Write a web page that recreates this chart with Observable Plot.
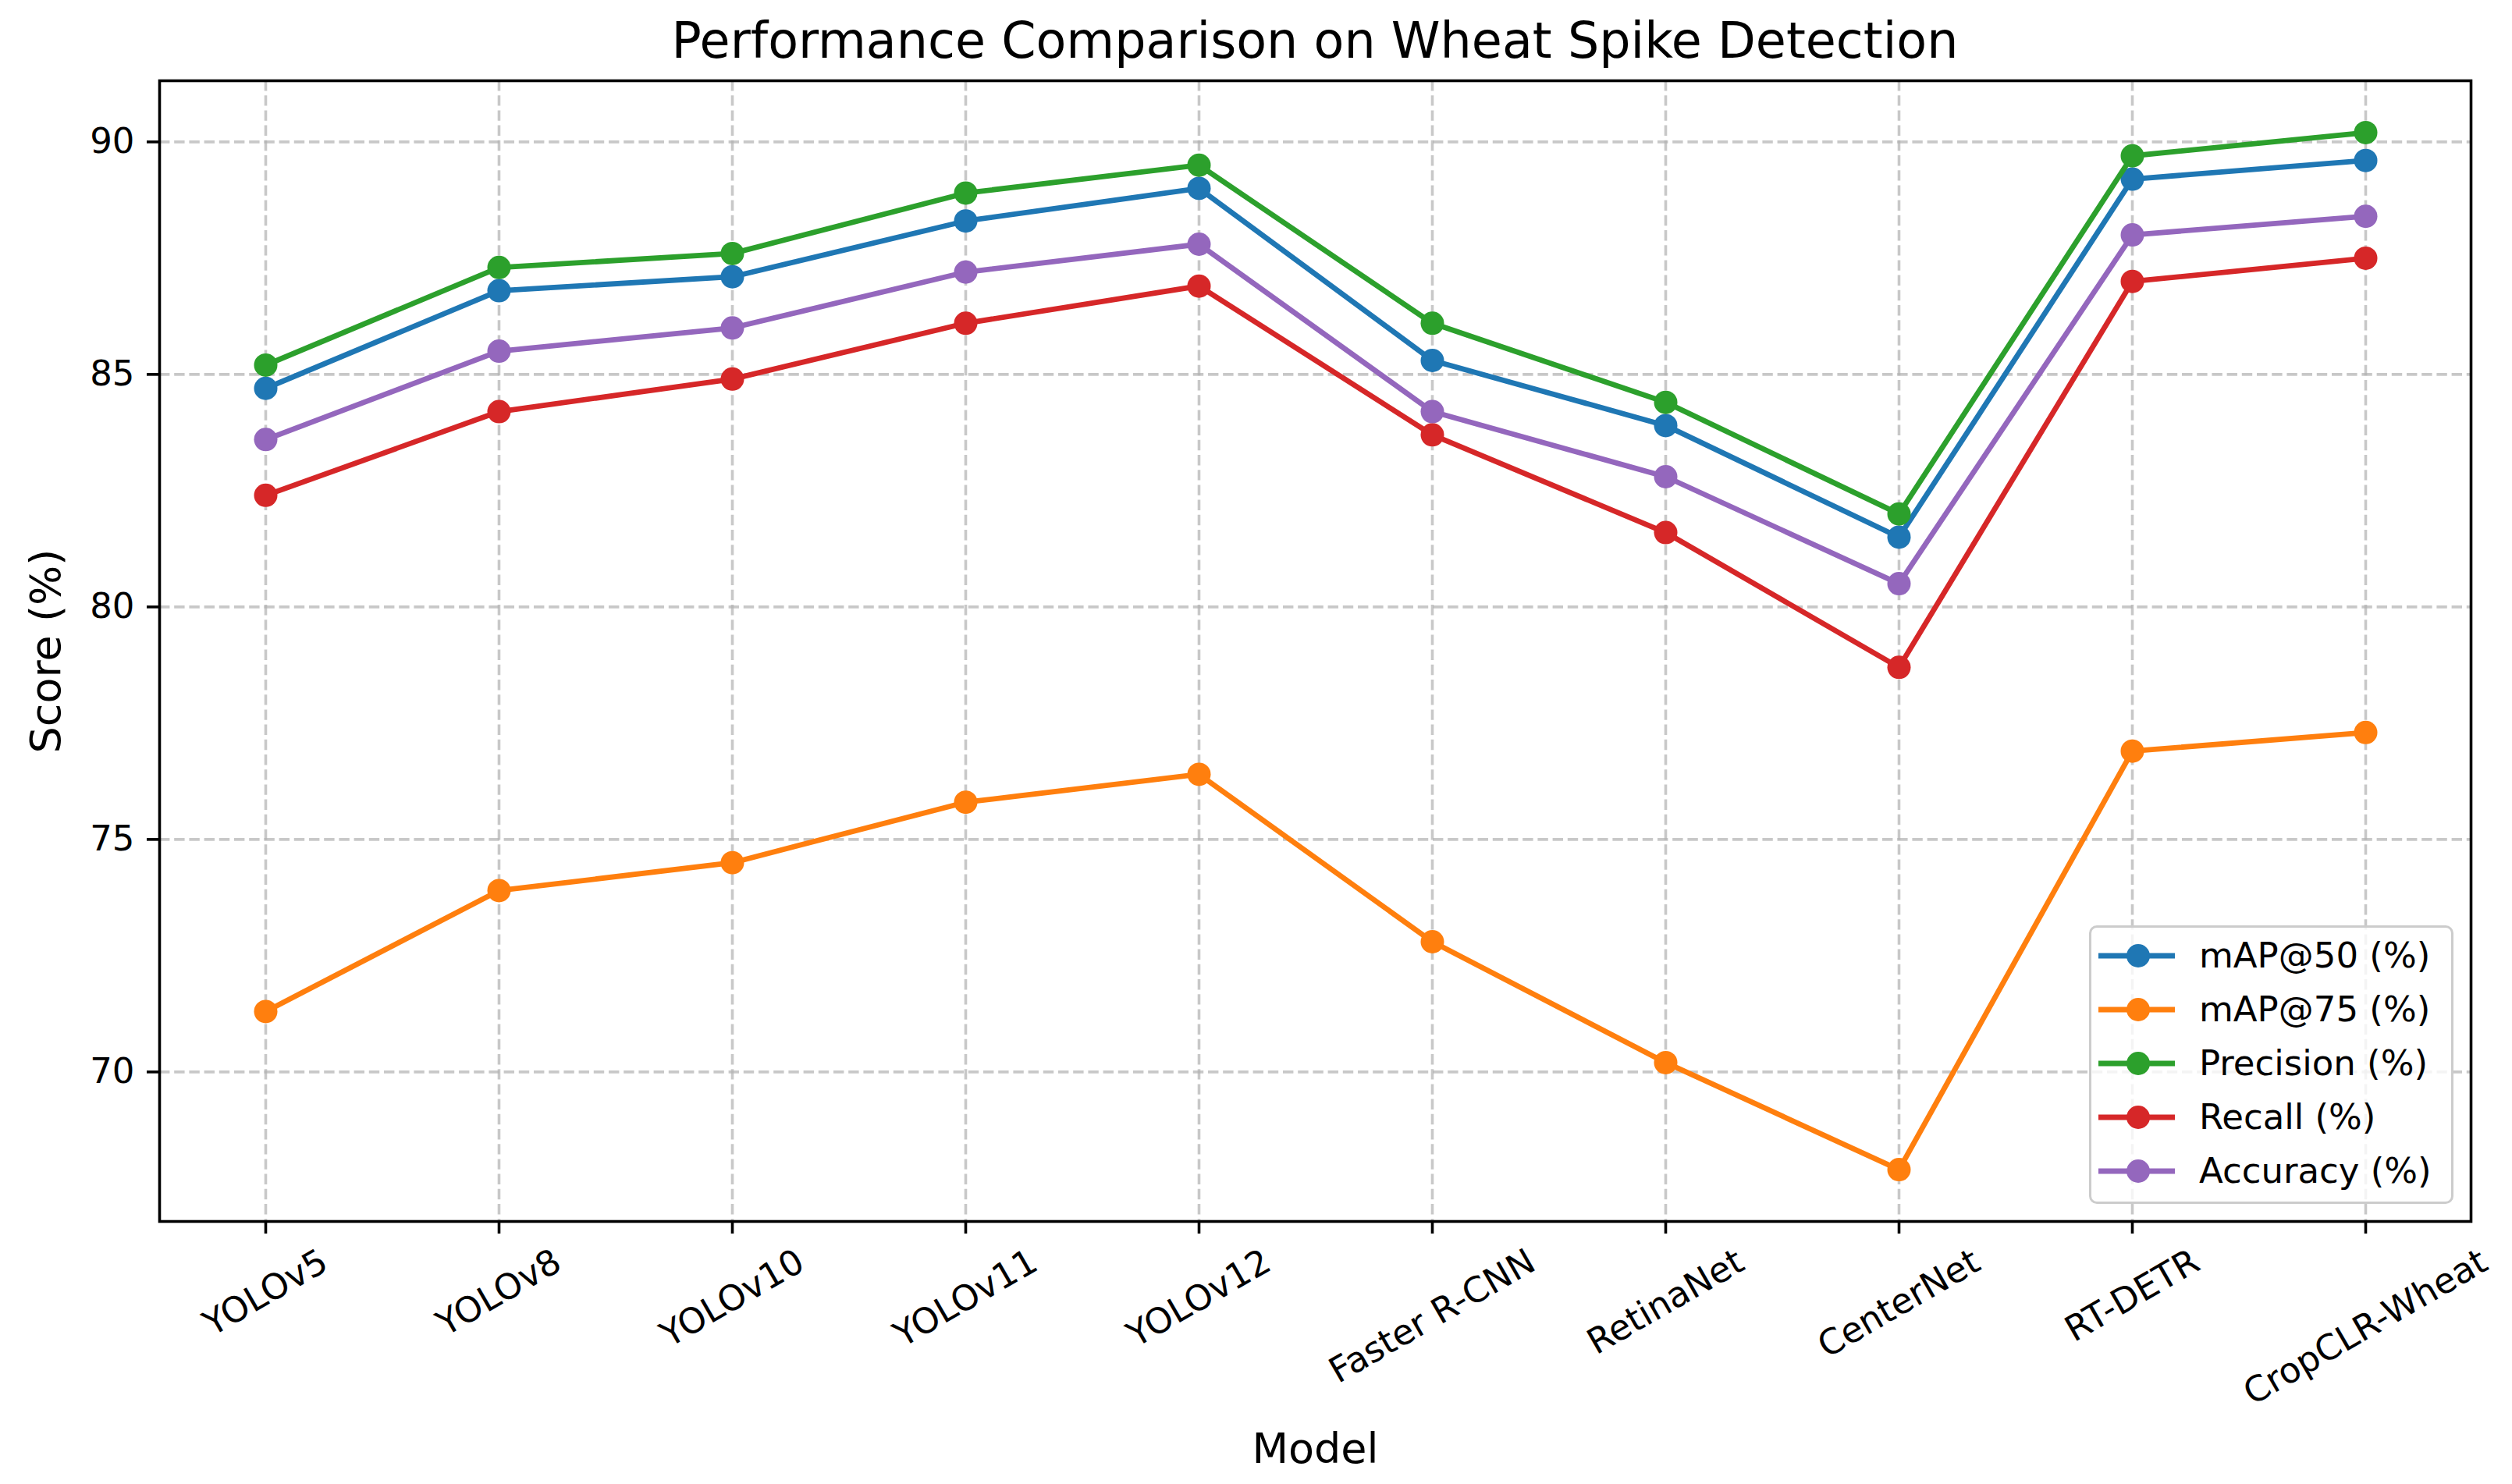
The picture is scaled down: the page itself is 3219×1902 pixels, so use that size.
<!DOCTYPE html>
<html>
<head>
<meta charset="utf-8">
<script src="https://cdn.jsdelivr.net/npm/d3@7"></script>
<script src="https://cdn.jsdelivr.net/npm/@observablehq/plot@0.6"></script>
<style>
  html, body { margin: 0; padding: 0; background: white; }
  #wrap { position: relative; width: 3219px; height: 1902px; font-family: "DejaVu Sans", sans-serif; }
  #title { position: absolute; left: 204px; width: 2962px; top: 0; height: 90px; line-height: 104px; text-align: center; font-size: 63.5px; color: black; white-space: nowrap; }
  #chart { position: absolute; left: 0; top: 90px; }
  #legend { position: absolute; left: 2677px; top: 1186px; width: 467px; height: 357px; box-sizing: border-box;
            border: 3.5px solid #cccccc; border-radius: 10px; background: rgba(255,255,255,0.8); }
  .row { position: absolute; left: 0; height: 60px; width: 100%; }
  .row svg { position: absolute; left: 9px; top: 0; }
  .row span { position: absolute; left: 138px; top: 0; line-height: 60px; font-size: 45px; color: black; white-space: nowrap; }
</style>
</head>
<body>
<div id="wrap">
  <div id="title">Performance Comparison on Wheat Spike Detection</div>
  <div id="chart"></div>
  <div id="legend"></div>
</div>
<script>
const models = ["YOLOv5", "YOLOv8", "YOLOv10", "YOLOv11", "YOLOv12", "Faster R-CNN", "RetinaNet", "CenterNet", "RT-DETR", "CropCLR-Wheat"];
const seriesNames = ["mAP@50 (%)", "mAP@75 (%)", "Precision (%)", "Recall (%)", "Accuracy (%)"];
const seriesColors = ["#1f77b4", "#ff7f0e", "#2ca02c", "#d62728", "#9467bd"];
const map50     = [84.7, 86.8, 87.1, 88.3, 89.0, 85.3, 83.9, 81.5, 89.2, 89.6];
const map75     = [71.3, 73.9, 74.5, 75.8, 76.4, 72.8, 70.2, 67.9, 76.9, 77.3];
const precision = [85.2, 87.3, 87.6, 88.9, 89.5, 86.1, 84.4, 82.0, 89.7, 90.2];
const recall    = [82.4, 84.2, 84.9, 86.1, 86.9, 83.7, 81.6, 78.7, 87.0, 87.5];
const accuracy  = [83.6, 85.5, 86.0, 87.2, 87.8, 84.2, 82.8, 80.5, 88.0, 88.4];
const yTicks = [70, 75, 80, 85, 90];

const seriesValues = [map50, map75, precision, recall, accuracy];
const series = seriesNames.map((name, i) => ({
  name, color: seriesColors[i],
  rows: models.map((m, j) => ({model: m, value: seriesValues[i][j]}))
}));

// y domain with matplotlib-like 5% margins
const allVals = seriesValues.flat();
const vmin = d3.min(allVals), vmax = d3.max(allVals);
const pad = (vmax - vmin) * 0.05;

// measure tick label widths for rotated placement
const ctx = document.createElement("canvas").getContext("2d");
ctx.font = "45px 'DejaVu Sans'";
const textW = s => ctx.measureText(s).width;

const lw = 6.8, mr = 15;
const marks = [
  Plot.gridY(yTicks, {stroke: "#b0b0b0", strokeOpacity: 0.7, strokeWidth: 3.6, strokeDasharray: "13.4,5.8"}),
  Plot.gridX(models, {stroke: "#b0b0b0", strokeOpacity: 0.7, strokeWidth: 3.6, strokeDasharray: "13.4,5.8"}),
];
for (const s of series) {
  marks.push(Plot.line(s.rows, {x: "model", y: "value", stroke: s.color, strokeWidth: lw, strokeLinejoin: "round", strokeLinecap: "square"}));
  marks.push(Plot.dot(s.rows, {x: "model", y: "value", r: mr, fill: s.color, stroke: "none"}));
}
marks.push(Plot.frame({stroke: "black", strokeWidth: 3.6}));
marks.push(Plot.axisY(yTicks, {tickSize: 16, tickPadding: 16, strokeWidth: 3.6, fontSize: 45, fill: "black", stroke: "black", label: null, tickFormat: d => String(d)}));
marks.push(Plot.axisX(models, {tickSize: 16, strokeWidth: 3.6, stroke: "black", tickFormat: () => "", label: null}));
for (const m of models) {
  marks.push(Plot.text([m], {x: d => d, frameAnchor: "bottom", dy: 32 + textW(m) / 4 + 16, rotate: -30,
    textAnchor: "middle", lineAnchor: "middle", fontSize: 45, fill: "black"}));
}
marks.push(Plot.text(["Score (%)"], {frameAnchor: "left", dx: -145, rotate: -90, textAnchor: "middle", lineAnchor: "middle", fontSize: 54, fill: "black"}));
marks.push(Plot.text(["Model"], {frameAnchor: "bottom", dy: 292, textAnchor: "middle", lineAnchor: "middle", fontSize: 54, fill: "black"}));

const chart = Plot.plot({
  width: 3219,
  height: 1812,
  marginTop: 13,
  marginBottom: 337,
  marginLeft: 204,
  marginRight: 53,
  style: {fontFamily: "DejaVu Sans", fontSize: "45px", color: "black", background: "white", overflow: "visible"},
  x: {type: "point", domain: models, padding: 0.45, label: null, axis: null},
  y: {domain: [vmin - pad, vmax + pad], label: null, axis: null},
  marks
});
document.getElementById("chart").appendChild(chart);

// legend
const legend = d3.select("#legend");
series.forEach((s, i) => {
  const row = legend.append("div").attr("class", "row").style("top", (39 - 3.5 + 69 * i - 30) + "px");
  const svg = row.append("svg").attr("width", 110).attr("height", 60);
  svg.append("line").attr("x1", 0).attr("x2", 98).attr("y1", 30).attr("y2", 30)
     .attr("stroke", s.color).attr("stroke-width", lw);
  svg.append("circle").attr("cx", 51).attr("cy", 30).attr("r", mr).attr("fill", s.color);
  row.append("span").text(s.name);
});
</script>
</body>
</html>
